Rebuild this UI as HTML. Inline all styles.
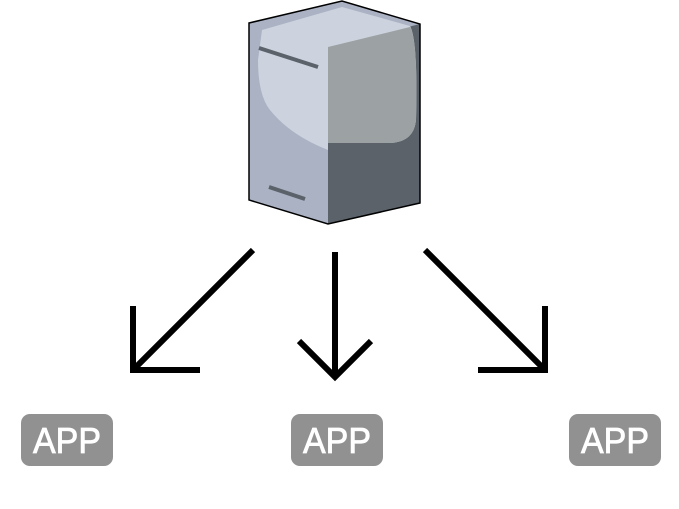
<!DOCTYPE html>
<html><head><style>body{margin:0;background:#fff;width:679px;height:504px;overflow:hidden}</style></head><body>
<svg width="679" height="504" xmlns="http://www.w3.org/2000/svg">
<polygon points="249,23 342,1 420,24 420,203 328,224 249,200" fill="#aab2c4"/>
<polygon points="328,47 420,24 420,203 328,224" fill="#5b626a"/>
<path d="M262,30 L342,7 L410,26 Q418,40 416,120 Q414,142 390,143 L328,143 L328,150 Q290,135 270,110 Q258,95 258,60 Z" fill="#ccd3de"/>
<path d="M328,47 L410,27 Q418,40 416,120 Q414,142 390,143 L328,143 Z" fill="#9ca1a3"/>
<polygon points="249,23 342,1 420,24 420,203 328,224 249,200" fill="none" stroke="#000" stroke-width="1.5"/>
<line x1="259" y1="48" x2="318" y2="67" stroke="#5b626a" stroke-width="4"/>
<line x1="269" y1="187" x2="305" y2="199" stroke="#5b626a" stroke-width="4"/>
<g stroke="#000" stroke-width="6" fill="none">
<line x1="253" y1="250" x2="135" y2="368"/><polyline points="133,306 133,370 200,370"/>
<line x1="335" y1="252" x2="335" y2="374"/><polyline points="299,341 335,377 371,341"/>
<line x1="425" y1="250" x2="543" y2="368"/><polyline points="545,306 545,370 478,370"/>
</g>
<g fill="#919191"><rect x="21" y="414" width="92" height="52" rx="9"/><rect x="291" y="414" width="92" height="52" rx="9"/><rect x="569" y="414" width="92" height="52" rx="9"/></g>
<g fill="#fff" stroke="#fff" stroke-width="0.8" font-family="Liberation Sans, sans-serif" font-size="36"><text x="33" y="453" textLength="68" lengthAdjust="spacingAndGlyphs">APP</text><text x="303" y="453" textLength="68" lengthAdjust="spacingAndGlyphs">APP</text><text x="581" y="453" textLength="68" lengthAdjust="spacingAndGlyphs">APP</text></g>
</svg>
</body></html>
